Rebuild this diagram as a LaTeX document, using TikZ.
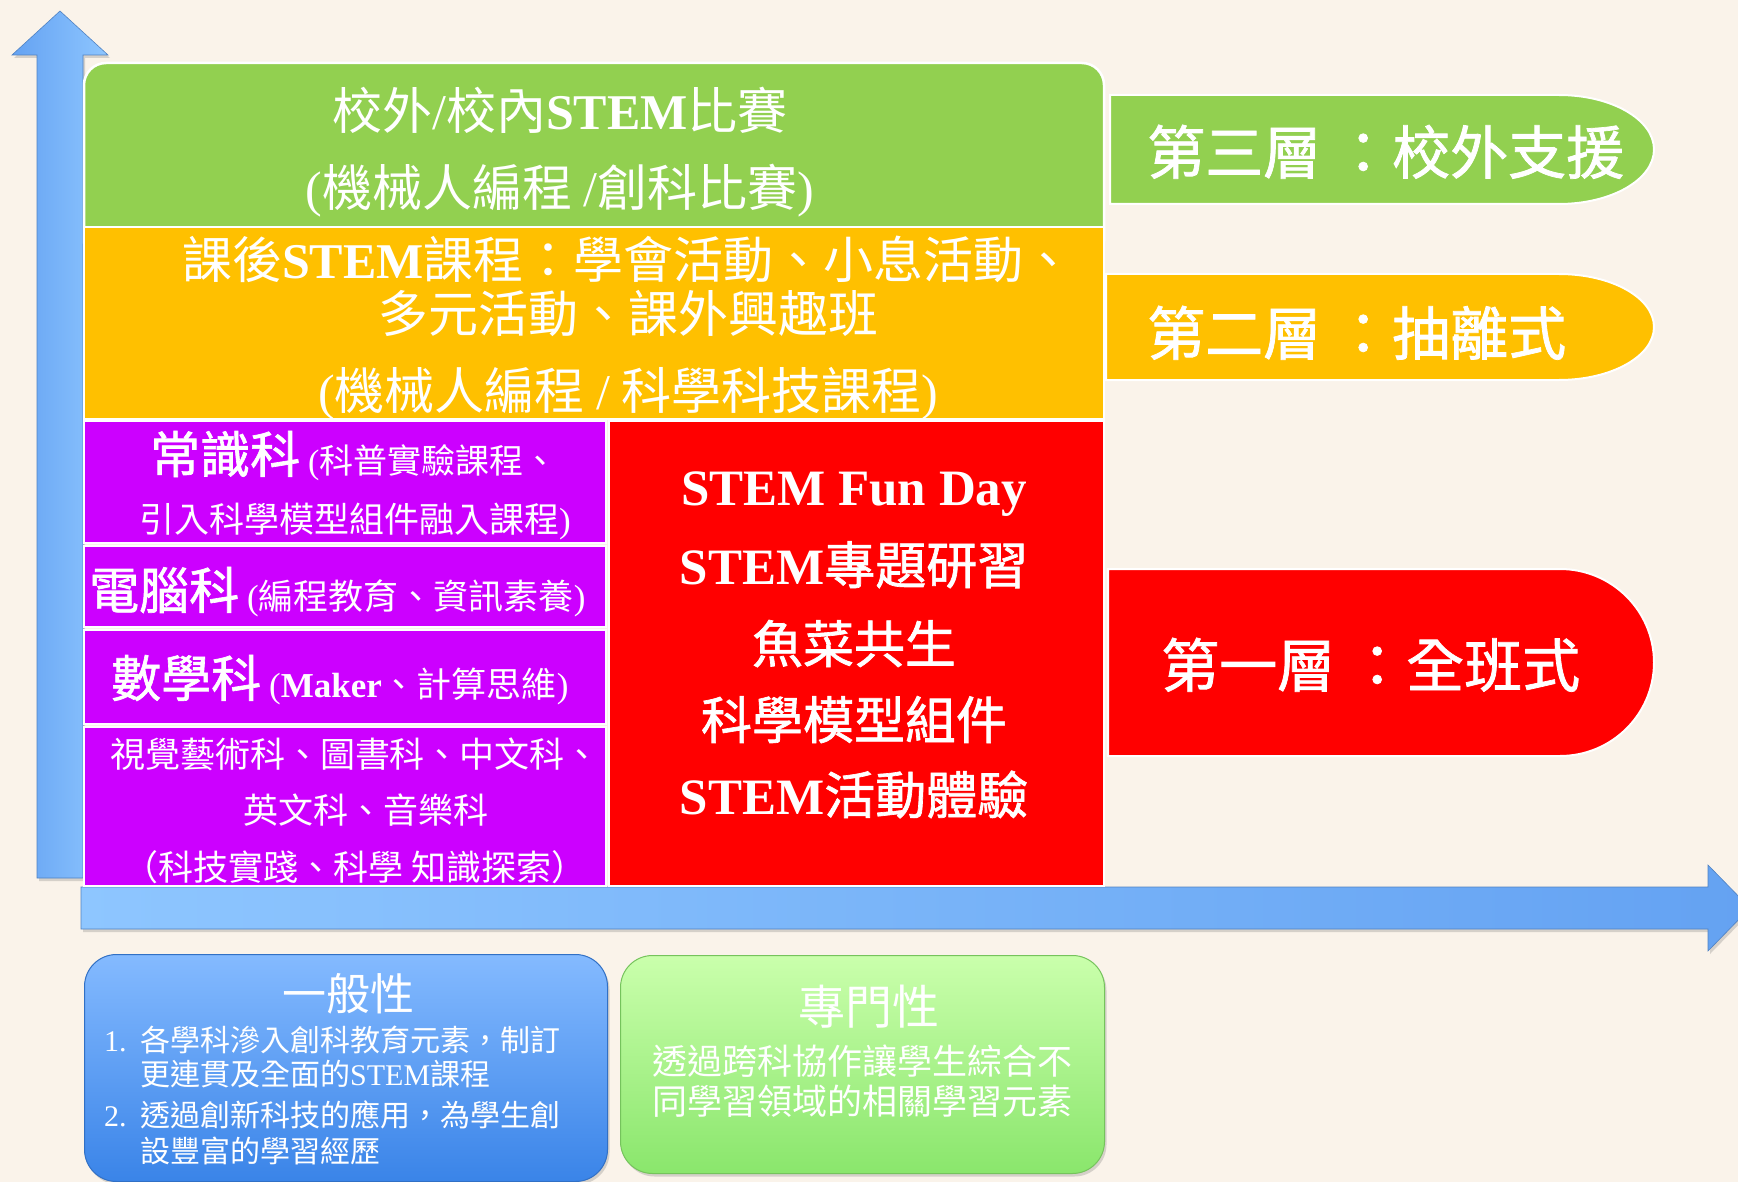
\documentclass[tikz,border=0pt]{standalone}
\usepackage{fontspec}
\setmainfont{Noto Sans CJK TC}
\newfontfamily\lat{Liberation Serif}
\newfontfamily\cjkmed[FakeBold=1.3]{Noto Sans CJK TC}
\usetikzlibrary{shadows}
\definecolor{bg}{RGB}{250,243,234}
\definecolor{tgreen}{RGB}{146,208,80}
\definecolor{torange}{RGB}{255,192,0}
\definecolor{tpurple}{RGB}{204,0,255}
\definecolor{tred}{RGB}{255,0,0}
\definecolor{arrowA}{RGB}{142,198,255}
\definecolor{arrowB}{RGB}{100,162,242}
\definecolor{boxblueT}{RGB}{132,186,255}
\definecolor{boxblueB}{RGB}{58,132,232}
\definecolor{boxgreenT}{RGB}{202,255,172}
\definecolor{boxgreenB}{RGB}{138,230,108}
\newcommand\fsz[1]{\fontsize{#1}{#1}\selectfont}
\begin{document}
\begin{tikzpicture}[x=1pt,y=-1pt,
  tier/.style={draw=white, line width=2.5pt, inner sep=0pt, outer sep=0pt, anchor=north west},
  pill/.style={draw=white, line width=2pt},
  txt/.style={text=white, inner sep=0pt, anchor=base},
  txtw/.style={text=white, inner sep=0pt, anchor=base west},
  axarrow/.style={draw=arrowB!80!black, line width=0.6pt, drop shadow={opacity=0.3, shadow xshift=2pt, shadow yshift=-3pt}},
  infobox/.style={rounded corners=32pt, line width=1pt, inner sep=0pt, anchor=north west, drop shadow={opacity=0.3, shadow xshift=2pt, shadow yshift=-3pt}},
]
\useasboundingbox (0,0) rectangle (1738,1182);
\fill[bg] (0,0) rectangle (1738,1182);
\clip (0,0) rectangle (1738,1182);

% axes
\path[axarrow, left color=arrowB, right color=arrowA]
  (37,878) -- (37,55) -- (12,55) -- (60,11) -- (108,55) -- (83,55) -- (83,878) -- cycle;
\path[axarrow, left color=arrowA, right color=arrowB]
  (81,887) -- (1708,887) -- (1708,865) -- (1750,908) -- (1708,951) -- (1708,929) -- (81,929) -- cycle;

% tiers
\node[tier, fill=tgreen, rounded corners=22pt, minimum width=1020pt, minimum height=200pt] (t3box) at (84,63) {};
\node[tier, fill=torange, minimum width=1020pt, minimum height=192pt] (t2box) at (84,227) {};
\node[tier, fill=tpurple, minimum width=522pt, minimum height=122pt] (gsbox) at (84,421) {};
\node[tier, fill=tpurple, minimum width=522pt, minimum height=81pt] (csbox) at (84,546) {};
\node[tier, fill=tpurple, minimum width=522pt, minimum height=94pt] (mabox) at (84,630) {};
\node[tier, fill=tpurple, minimum width=522pt, minimum height=159pt] (otbox) at (84,727) {};
\node[tier, fill=tred, minimum width=495pt, minimum height=465pt] (redbox) at (609,421) {};

% pills
\path[pill, fill=tgreen] (1110,95) -- (1559,95) .. controls (1611.4,95) and (1654,119.4) .. (1654,149.5)
  .. controls (1654,179.6) and (1611.4,204) .. (1559,204) -- (1110,204) -- cycle;
\path[pill, fill=torange] (1106,274) -- (1559,274) .. controls (1611.4,274) and (1654,297.7) .. (1654,327)
  .. controls (1654,356.3) and (1611.4,380) .. (1559,380) -- (1106,380) -- cycle;
\path[pill, fill=tred] (1108,569) -- (1560,569) .. controls (1612,569) and (1654,610.9) .. (1654,662.5)
  .. controls (1654,714.1) and (1612,756) .. (1560,756) -- (1108,756) -- cycle;

% bottom boxes
\node[infobox, draw=boxblueB!85!black, top color=boxblueT, bottom color=boxblueB, minimum width=523pt, minimum height=227pt] (genbox) at (84,954) {};
\node[infobox, draw=boxgreenB!85!black, top color=boxgreenT, bottom color=boxgreenB, minimum width=484pt, minimum height=218pt] (spbox) at (620,955) {};

% texts: tier 3
\node[txt] (t3a) at (560,130) {\fsz{50}校外{\lat /}校內{\lat\bfseries STEM}比賽};
\node[txt] (t3b) at (560,207) {\fsz{50}{\lat(}機械人編程 {\lat/}創科比賽{\lat)}};
% tier 2
\node[txt] (t2a) at (628,279) {\fsz{50}課後{\lat\bfseries STEM}課程：學會活動、小息活動、};
\node[txt] (t2b) at (628,333) {\fsz{50}多元活動、課外興趣班};
\node[txt] (t2c) at (628,409) {\fsz{50}{\lat(}機械人編程 {\lat/} 科學科技課程{\lat)}};
% purple
\node[txtw] (gs1) at (150,473) {\fsz{50}{\cjkmed 常識科}\hspace{8pt}\fsz{34}{\lat(}科普實驗課程、};
\node[txtw] (gs2) at (139,532) {\fsz{35}引入科學模型組件融入課程{\lat)}};
\node[txtw] (cs) at (89,609) {\fsz{50}{\cjkmed 電腦科}\hspace{8pt}\fsz{35}{\lat(}編程教育、資訊素養{\lat)}};
\node[txtw] (ma) at (111,697) {\fsz{50}{\cjkmed 數學科}\hspace{8pt}\fsz{35}{\lat(\bfseries Maker}、計算思維{\lat)}};
\node[txt] (ot1) at (355,767) {\fsz{35}視覺藝術科、圖書科、中文科、};
\node[txt] (ot2) at (366,823) {\fsz{35}英文科、音樂科};
\node[txt] (ot3) at (355,880) {\fsz{35}（科技實踐、科學 知識探索）};
% red
\node[txt] (r1) at (854,505) {\fsz{51}\lat\bfseries STEM Fun Day};
\node[txt] (r2) at (854,584) {\fsz{51}{\lat\bfseries STEM}{\cjkmed 專題研習}};
\node[txt] (r3) at (854,663) {\fsz{51}\cjkmed 魚菜共生};
\node[txt] (r4) at (854,739) {\fsz{51}\cjkmed 科學模型組件};
\node[txt] (r5) at (854,814) {\fsz{51}{\lat\bfseries STEM}{\cjkmed 活動體驗}};
% pills
\node[txtw] (p3) at (1147,174) {\fsz{58}\cjkmed 第三層 ：校外支援};
\node[txtw] (p2) at (1147,355) {\fsz{58}\cjkmed 第二層 ：抽離式};
\node[txtw] (p1) at (1161,687) {\fsz{58}\cjkmed 第一層 ：全班式};
% general
\node[txt] (gt) at (348,1010) {\fsz{44}一般性};
\node[txtw] (g1) at (104,1051) {\fsz{30}\makebox[36pt][l]{\lat 1.}各學科滲入創科教育元素，制訂};
\node[txtw] (g1b) at (140,1085) {\fsz{30}更連貫及全面的{\lat STEM}課程};
\node[txtw] (g2) at (104,1126) {\fsz{30}\makebox[36pt][l]{\lat 2.}透過創新科技的應用，為學生創};
\node[txtw] (g2b) at (140,1162) {\fsz{30}設豐富的學習經歷};
% special
\node[txt] (st) at (869,1024) {\fsz{47}專門性};
\node[txt] (s1) at (862,1074) {\fsz{35}透過跨科協作讓學生綜合不};
\node[txt] (s2) at (862,1114) {\fsz{35}同學習領域的相關學習元素};
\end{tikzpicture}
\end{document}
